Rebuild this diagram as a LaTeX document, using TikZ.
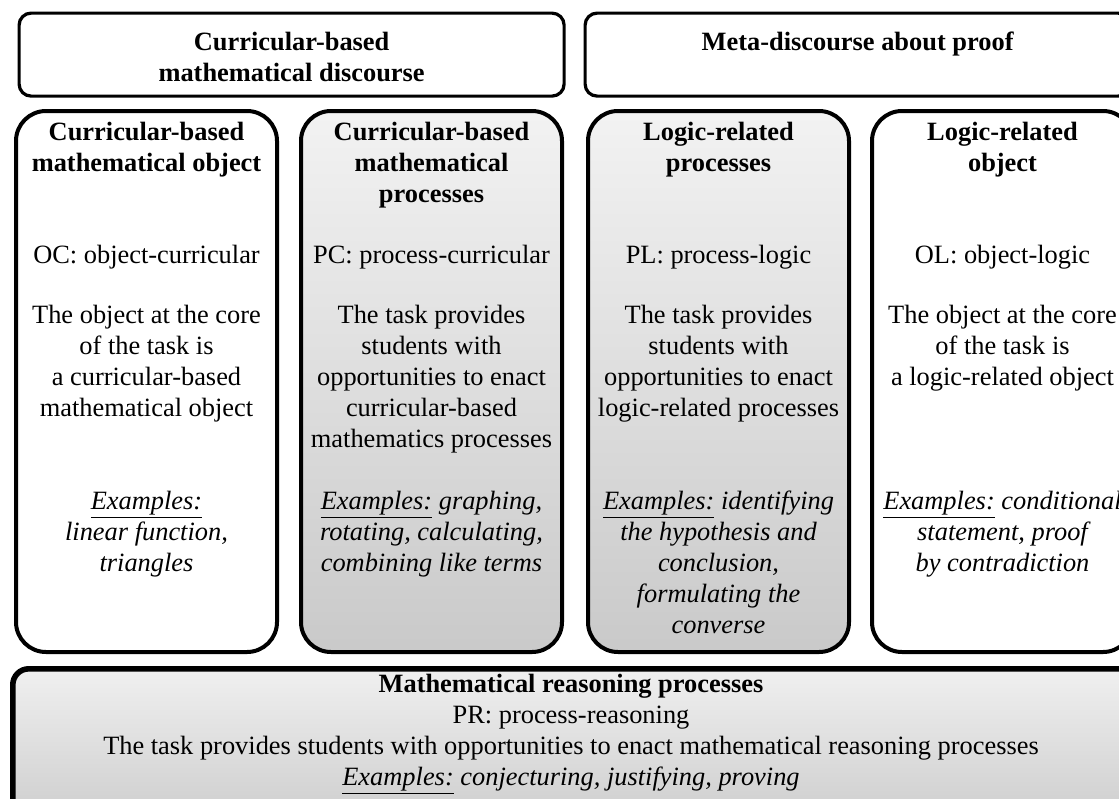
\documentclass[tikz,border=0pt]{standalone}
\usepackage{fontspec}
\setmainfont{Liberation Serif}
\usetikzlibrary{positioning}
\tikzset{
  txt/.style  ={font=\fontsize{13.2}{15.5}\selectfont, align=center, inner sep=0pt, anchor=base},
  ttl/.style  ={txt, font=\fontsize{13.2}{15.5}\selectfont\bfseries},
  ex/.style   ={txt, font=\fontsize{13.2}{15.5}\selectfont\itshape},
  head/.style ={draw, line width=1.6pt, rounded corners=6pt, minimum width=272.5pt, minimum height=41.5pt, inner sep=0pt, anchor=north west},
  col/.style  ={draw, line width=2pt, rounded corners=15pt, minimum width=130.5pt, minimum height=270.5pt, inner sep=0pt, anchor=north west},
  grad/.style ={top color=black!5, bottom color=black!21},
  foot/.style ={draw, line width=2.8pt, rounded corners=8pt, minimum width=560.5pt, minimum height=74pt, inner sep=0pt, anchor=north west, top color=black!6, bottom color=black!19},
}
\begin{document}
\begin{tikzpicture}[x=0.5pt, y=-0.5pt]
  \clip (0,0) rectangle (1119,798);
  % discourse headers (text nodes sit on the baseline of their last line)
  \node[head] (hCur)  at (17.5,11.5)  {};
  \node[head] (hMeta) at (583.5,11.5) {};
  \node[ttl] (tCur)  at (hCur.north |- 0,81)  {Curricular-based\\mathematical discourse};
  \node[ttl] (tMeta) at (hMeta.north |- 0,50) {Meta-discourse about proof};
  % columns
  \node[col]       (OC) at (14,109)  {};
  \node[col, grad] (PC) at (299,109) {};
  \node[col, grad] (PL) at (586,109) {};
  \node[col]       (OL) at (870,109) {};
  % object-curricular
  \node[ttl] (OCt) at (OC.north |- 0,171) {Curricular-based\\mathematical object};
  \node[txt] (OCc) at (OC.north |- 0,263) {OC: object-curricular};
  \node[txt] (OCd) at (OC.north |- 0,416) {The object at the core\\of the task is\\a curricular-based\\mathematical object};
  \node[ex]  (OCe) at (OC.north |- 0,571) {\underline{Examples:}\\linear function,\\triangles};
  % process-curricular
  \node[ttl] (PCt) at (PC.north |- 0,202) {Curricular-based\\mathematical\\processes};
  \node[txt] (PCc) at (PC.north |- 0,263) {PC: process-curricular};
  \node[txt] (PCd) at (PC.north |- 0,447) {The task provides\\students with\\opportunities to enact\\curricular-based\\mathematics processes};
  \node[ex]  (PCe) at (PC.north |- 0,571) {\underline{Examples:} graphing,\\rotating, calculating,\\combining like terms};
  % process-logic
  \node[ttl] (PLt) at (PL.north |- 0,171) {Logic-related\\processes};
  \node[txt] (PLc) at (PL.north |- 0,263) {PL: process-logic};
  \node[txt] (PLd) at (PL.north |- 0,416) {The task provides\\students with\\opportunities to enact\\logic-related processes};
  \node[ex]  (PLe) at (PL.north |- 0,633) {\underline{Examples:} identifying\\the hypothesis and\\conclusion,\\formulating the\\converse};
  % object-logic
  \node[ttl] (OLt) at (OL.north |- 0,171) {Logic-related\\object};
  \node[txt] (OLc) at (OL.north |- 0,263) {OL: object-logic};
  \node[txt] (OLd) at (OL.north |- 0,385) {The object at the core\\of the task is\\a logic-related object};
  \node[ex]  (OLe) at (OL.north |- 0,571) {\underline{Examples:} conditional\\statement, proof\\by contradiction};
  % reasoning
  \node[foot] (PR) at (10,666) {};
  \node[txt] (PRt) at (571,785) {\textbf{Mathematical reasoning processes}\\PR: process-reasoning\\The task provides students with opportunities to enact mathematical reasoning processes\\\textit{\underline{Examples:} conjecturing, justifying, proving}};
\end{tikzpicture}
\end{document}
